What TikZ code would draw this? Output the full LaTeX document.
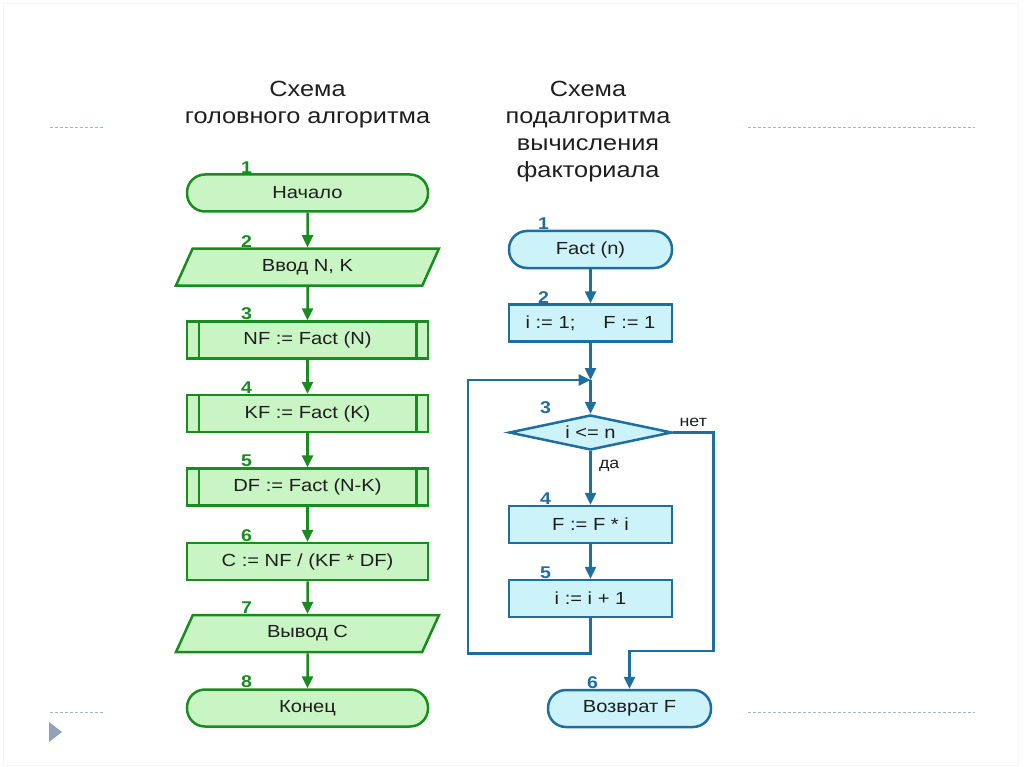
\documentclass[tikz,border=0pt]{standalone}
\usepackage{fontspec}
\setmainfont[FakeStretch=1.15]{Liberation Sans}
\usetikzlibrary{shapes.geometric,arrows.meta}
\definecolor{gfill}{RGB}{200,245,195}
\definecolor{gline}{RGB}{25,140,30}
\definecolor{bfill}{RGB}{204,242,250}
\definecolor{bline}{RGB}{30,110,160}
\definecolor{txt}{RGB}{30,30,30}
\definecolor{deco}{RGB}{160,180,205}
\tikzset{
  base/.style={draw, line width=2.5pt, minimum height=37pt, inner sep=0pt,
    font=\fontsize{17.5}{19}\selectfont, text=txt},
  term/.style={base, rounded corners=18pt},
  proc/.style={base, rectangle},
  sub/.style={proc},
  io/.style={base, trapezium, trapezium left angle=43, trapezium right angle=137,
    trapezium stretches body, minimum width=263pt},
  dec/.style={base, diamond, aspect=4.5, minimum width=160pt, minimum height=35pt},
  num/.style={font=\bfseries\fontsize{17}{19}\selectfont, inner sep=0pt},
  grn/.style={fill=gfill, draw=gline, minimum width=241pt,
    label={[num,text=gline,xshift=-61pt]north:#1}},
  blu/.style 2 args={fill=bfill, draw=bline, minimum width=163pt,
    label={[num,text=bline,xshift=#2]north:#1}},
  garr/.style={draw=gline, line width=2.5pt, -{Triangle[length=12pt,width=11pt]}},
  barr/.style={draw=bline, line width=2.5pt, -{Triangle[length=12pt,width=11pt]}},
  lab/.style={font=\fontsize{15.5}{17}\selectfont, text=txt},
  head/.style={align=center, font=\fontsize{22}{27}\selectfont, text=txt}
}
\begin{document}
\begin{tikzpicture}[x=1pt, y=-1pt]
\useasboundingbox (0,0) rectangle (1024,767);
% slide frame and rules
\draw[gray!8] (3,3) rectangle (1018,765);
\draw[deco, dash pattern=on 3pt off 2pt] (50,127) -- (105,127) (748,127) -- (975,127)
  (50,712) -- (103,712) (748,712) -- (975,712);
\fill[deco!90!black] (49,722) -- (62,732) -- (49,742) -- cycle;
% headings
\node[head] (h1) at (307.5,105) {Схема\\головного алгоритма};
\node[head] (h2) at (588,132) {Схема\\подалгоритма\\вычисления\\факториала};
% main algorithm
\foreach \i/\y/\s/\t in {1/193/term/Начало, 2/267/io/{Ввод N, K},
    3/340/sub/NF := Fact (N), 4/413.5/sub/KF := Fact (K), 5/487/sub/DF := Fact (N-K),
    6/561.5/proc/{C := NF / (KF * DF)}, 7/633.5/io/Вывод C, 8/708/term/Конец}
  \node[grn=\i, \s] (L\i) at (307.5,\y) {\t};
\foreach \i in {3,4,5}
  \draw[gline, line width=2.5pt] ([xshift=13pt]L\i.north west) -- ([xshift=13pt]L\i.south west)
    ([xshift=-13pt]L\i.north east) -- ([xshift=-13pt]L\i.south east);
\foreach \i [count=\j from 2] in {1,...,7}
  \draw[garr] (L\i.south) -- (L\j.north);
% factorial subalgorithm
\node[term, blu={1}{-47pt}] (R1) at (590.5,249.5) {Fact (n)};
\node[proc, blu={2}{-47pt}] (R2) at (590.5,323) {i := 1;\hspace{1.6em}F := 1};
\node[dec, blu={3}{-45pt}] (R3) at (590.5,432.5) {i <= n};
\node[proc, blu={4}{-45pt}] (R4) at (590.5,524.5) {F := F * i};
\node[proc, blu={5}{-45pt}] (R5) at (590.5,598.5) {i := i + 1};
\node[term, blu={6}{-37pt}] (R6) at (629.5,708.5) {Возврат F};
\coordinate (jn) at (590.5,380);
\coordinate (lp) at (468,380);
\draw[barr] (R1.south) -- (R2.north);
\draw[barr] (R2.south) -- (jn);
\draw[barr] (jn) -- (R3.north);
\draw[barr] (R3.south) -- node[lab, right=4pt, pos=.27] {да} (R4.north);
\draw[barr] (R4.south) -- (R5.north);
\draw[barr] (R5.south) -- ++(0,35) -| (lp) -- (jn);
\draw[barr] (R3.east) -- node[lab, above=1pt] {нет} ++(40,0)
  |- ([yshift=38pt]R6.north) -- (R6.north);
\end{tikzpicture}
\end{document}
